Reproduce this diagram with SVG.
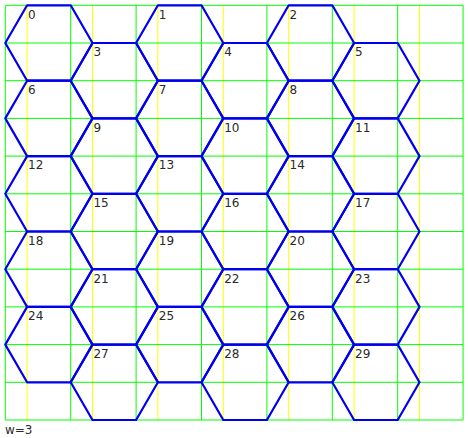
<svg xmlns="http://www.w3.org/2000/svg" xmlns:xlink="http://www.w3.org/1999/xlink" width="468" height="438" viewBox="0 0 468 438">
<style>
.yl{stroke:#ffff00;stroke-width:1;fill:none}
.gl{stroke:#00ff00;stroke-width:1;fill:none}
.hx{stroke:#0000ee;stroke-width:2.2;fill:none;stroke-linejoin:round}
.lb{font-family:"DejaVu Sans",Verdana,sans-serif;font-size:12px;fill:#2a2a2a}
</style>
<defs>
<path id="hex" d="M0,0 L21.8,-37.7 L65.4,-37.7 L87.2,0 L65.4,37.7 L21.8,37.7 Z"/>
</defs>
<rect width="468" height="438" fill="#ffffff"/>
<g id="grid">
<g class="yl">
<path d="M27.1,5.3V420M92.5,5.3V420M157.9,5.3V420M223.3,5.3V420M288.7,5.3V420M354.1,5.3V420M419.5,5.3V420"/>
</g>
<g class="gl">
<path d="M5.3,5.3V420M70.7,5.3V420M136.1,5.3V420M201.5,5.3V420M266.9,5.3V420M332.3,5.3V420M397.7,5.3V420M463.1,5.3V420"/>
<path d="M5.3,5.3H463.1M5.3,43H463.1M5.3,80.7H463.1M5.3,118.4H463.1M5.3,156.1H463.1M5.3,193.8H463.1M5.3,231.5H463.1M5.3,269.2H463.1M5.3,306.9H463.1M5.3,344.6H463.1M5.3,382.3H463.1M5.3,420H463.1"/>
</g>
</g>
<g id="connectors"></g>
<g id="h0"><use xlink:href="#hex" href="#hex" class="hx" x="5.3" y="43"/><text class="lb" x="28" y="18.6">0</text></g>
<g id="h1"><use xlink:href="#hex" href="#hex" class="hx" x="136.1" y="43"/><text class="lb" x="158.8" y="18.6">1</text></g>
<g id="h2"><use xlink:href="#hex" href="#hex" class="hx" x="266.9" y="43"/><text class="lb" x="289.6" y="18.6">2</text></g>
<g id="h3"><use xlink:href="#hex" href="#hex" class="hx" x="70.7" y="80.7"/><text class="lb" x="93.4" y="56.3">3</text></g>
<g id="h4"><use xlink:href="#hex" href="#hex" class="hx" x="201.5" y="80.7"/><text class="lb" x="224.2" y="56.3">4</text></g>
<g id="h5"><use xlink:href="#hex" href="#hex" class="hx" x="332.3" y="80.7"/><text class="lb" x="355" y="56.3">5</text></g>
<g id="h6"><use xlink:href="#hex" href="#hex" class="hx" x="5.3" y="118.4"/><text class="lb" x="28" y="94">6</text></g>
<g id="h7"><use xlink:href="#hex" href="#hex" class="hx" x="136.1" y="118.4"/><text class="lb" x="158.8" y="94">7</text></g>
<g id="h8"><use xlink:href="#hex" href="#hex" class="hx" x="266.9" y="118.4"/><text class="lb" x="289.6" y="94">8</text></g>
<g id="h9"><use xlink:href="#hex" href="#hex" class="hx" x="70.7" y="156.1"/><text class="lb" x="93.4" y="131.7">9</text></g>
<g id="h10"><use xlink:href="#hex" href="#hex" class="hx" x="201.5" y="156.1"/><text class="lb" x="224.2" y="131.7">10</text></g>
<g id="h11"><use xlink:href="#hex" href="#hex" class="hx" x="332.3" y="156.1"/><text class="lb" x="355" y="131.7">11</text></g>
<g id="h12"><use xlink:href="#hex" href="#hex" class="hx" x="5.3" y="193.8"/><text class="lb" x="28" y="169.4">12</text></g>
<g id="h13"><use xlink:href="#hex" href="#hex" class="hx" x="136.1" y="193.8"/><text class="lb" x="158.8" y="169.4">13</text></g>
<g id="h14"><use xlink:href="#hex" href="#hex" class="hx" x="266.9" y="193.8"/><text class="lb" x="289.6" y="169.4">14</text></g>
<g id="h15"><use xlink:href="#hex" href="#hex" class="hx" x="70.7" y="231.5"/><text class="lb" x="93.4" y="207.1">15</text></g>
<g id="h16"><use xlink:href="#hex" href="#hex" class="hx" x="201.5" y="231.5"/><text class="lb" x="224.2" y="207.1">16</text></g>
<g id="h17"><use xlink:href="#hex" href="#hex" class="hx" x="332.3" y="231.5"/><text class="lb" x="355" y="207.1">17</text></g>
<g id="h18"><use xlink:href="#hex" href="#hex" class="hx" x="5.3" y="269.2"/><text class="lb" x="28" y="244.8">18</text></g>
<g id="h19"><use xlink:href="#hex" href="#hex" class="hx" x="136.1" y="269.2"/><text class="lb" x="158.8" y="244.8">19</text></g>
<g id="h20"><use xlink:href="#hex" href="#hex" class="hx" x="266.9" y="269.2"/><text class="lb" x="289.6" y="244.8">20</text></g>
<g id="h21"><use xlink:href="#hex" href="#hex" class="hx" x="70.7" y="306.9"/><text class="lb" x="93.4" y="282.5">21</text></g>
<g id="h22"><use xlink:href="#hex" href="#hex" class="hx" x="201.5" y="306.9"/><text class="lb" x="224.2" y="282.5">22</text></g>
<g id="h23"><use xlink:href="#hex" href="#hex" class="hx" x="332.3" y="306.9"/><text class="lb" x="355" y="282.5">23</text></g>
<g id="h24"><use xlink:href="#hex" href="#hex" class="hx" x="5.3" y="344.6"/><text class="lb" x="28" y="320.2">24</text></g>
<g id="h25"><use xlink:href="#hex" href="#hex" class="hx" x="136.1" y="344.6"/><text class="lb" x="158.8" y="320.2">25</text></g>
<g id="h26"><use xlink:href="#hex" href="#hex" class="hx" x="266.9" y="344.6"/><text class="lb" x="289.6" y="320.2">26</text></g>
<g id="h27"><use xlink:href="#hex" href="#hex" class="hx" x="70.7" y="382.3"/><text class="lb" x="93.4" y="357.9">27</text></g>
<g id="h28"><use xlink:href="#hex" href="#hex" class="hx" x="201.5" y="382.3"/><text class="lb" x="224.2" y="357.9">28</text></g>
<g id="h29"><use xlink:href="#hex" href="#hex" class="hx" x="332.3" y="382.3"/><text class="lb" x="355" y="357.9">29</text></g>
<text class="lb" x="5" y="433.5">w=3</text>
</svg>
